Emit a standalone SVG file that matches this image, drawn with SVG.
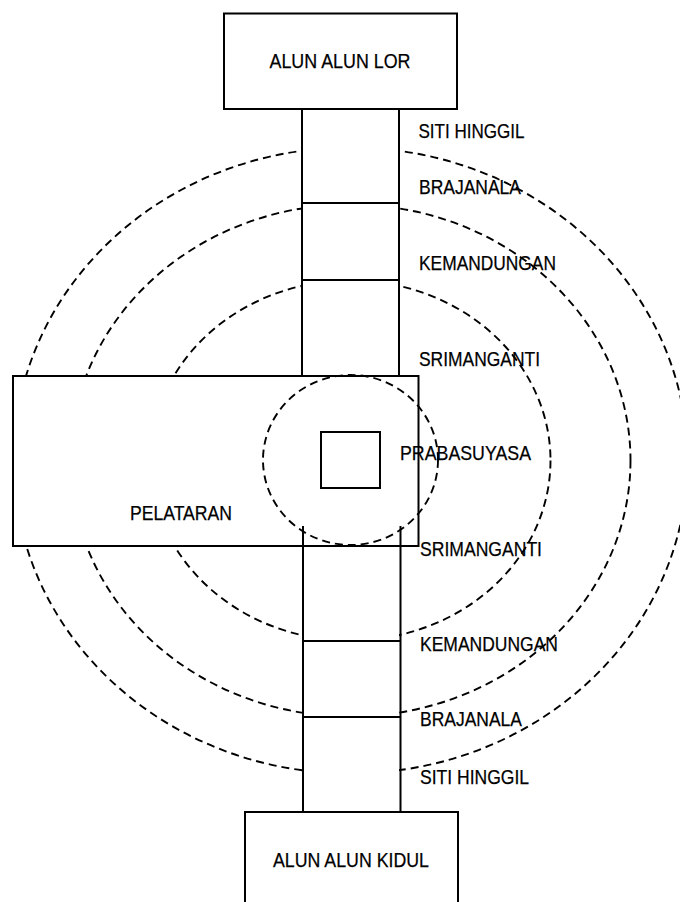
<svg xmlns="http://www.w3.org/2000/svg" width="680" height="902" viewBox="0 0 680 902">
  <style>
    .box { fill: #ffffff; stroke: #000000; stroke-width: 2; }
    .line { fill: none; stroke: #000000; stroke-width: 2; }
    .ring { fill: none; stroke: #000000; stroke-width: 1.9; stroke-dasharray: 8 5; }
    .lbl { font-family: "Liberation Sans", Arial, sans-serif; font-size: 21px; fill: #000000; stroke: #000000; stroke-width: 0.25; }
  </style>
  <rect x="0" y="0" width="680" height="902" fill="#ffffff"/>

  <g id="rings">
    <ellipse id="ring-siti-hinggil" class="ring" cx="350.5" cy="460.5" rx="337" ry="313"/>
    <ellipse id="ring-brajanala" class="ring" cx="350.5" cy="460.5" rx="280" ry="256"/>
    <ellipse id="ring-kemandungan" class="ring" cx="350.5" cy="460.5" rx="200" ry="180"/>
  </g>

  <rect x="302" y="109" width="97" height="703" fill="#ffffff"/>

  <g id="pelataran">
    <rect class="box" x="13" y="376" width="405.5" height="170"/>
    <text class="lbl" x="130" y="520" textLength="102" lengthAdjust="spacingAndGlyphs">PELATARAN</text>
  </g>

  <g id="connectors">
    <line class="line" x1="302" y1="109" x2="302" y2="376"/>
    <line class="line" x1="399" y1="109" x2="399" y2="376"/>
    <line class="line" x1="302" y1="203" x2="399" y2="203"/>
    <line class="line" x1="302" y1="280" x2="399" y2="280"/>
    <line class="line" x1="303" y1="526" x2="303" y2="812"/>
    <line class="line" x1="400.5" y1="526" x2="400.5" y2="812"/>
    <line class="line" x1="303" y1="641" x2="400.5" y2="641"/>
    <line class="line" x1="303" y1="717" x2="400.5" y2="717"/>
  </g>

  <g id="prabasuyasa">
    <ellipse class="ring" cx="350.5" cy="460" rx="87.5" ry="85"/>
    <rect class="box" x="321" y="432" width="59" height="56"/>
  </g>

  <g id="alun-alun-lor">
    <rect class="box" x="224" y="13.5" width="233" height="95.5"/>
    <text class="lbl" x="269.5" y="68" textLength="141" lengthAdjust="spacingAndGlyphs">ALUN ALUN LOR</text>
  </g>

  <g id="alun-alun-kidul">
    <rect class="box" x="245" y="812" width="213" height="100"/>
    <text class="lbl" x="273" y="867" textLength="156" lengthAdjust="spacingAndGlyphs">ALUN ALUN KIDUL</text>
  </g>

  <g id="labels">
    <g id="lbl-siti-hinggil-n"><text class="lbl" x="418.5" y="138" textLength="106" lengthAdjust="spacingAndGlyphs">SITI HINGGIL</text></g>
    <g id="lbl-brajanala-n"><text class="lbl" x="419" y="194" textLength="102" lengthAdjust="spacingAndGlyphs">BRAJANALA</text></g>
    <g id="lbl-kemandungan-n"><text class="lbl" x="419" y="270" textLength="137" lengthAdjust="spacingAndGlyphs">KEMANDUNGAN</text></g>
    <g id="lbl-srimanganti-n"><text class="lbl" x="419" y="366" textLength="121" lengthAdjust="spacingAndGlyphs">SRIMANGANTI</text></g>
    <g id="lbl-prabasuyasa"><text class="lbl" x="400" y="460" textLength="131" lengthAdjust="spacingAndGlyphs">PRABASUYASA</text></g>
    <g id="lbl-srimanganti-s"><text class="lbl" x="420" y="556" textLength="122" lengthAdjust="spacingAndGlyphs">SRIMANGANTI</text></g>
    <g id="lbl-kemandungan-s"><text class="lbl" x="420" y="651" textLength="138" lengthAdjust="spacingAndGlyphs">KEMANDUNGAN</text></g>
    <g id="lbl-brajanala-s"><text class="lbl" x="420" y="726" textLength="102" lengthAdjust="spacingAndGlyphs">BRAJANALA</text></g>
    <g id="lbl-siti-hinggil-s"><text class="lbl" x="420" y="784" textLength="109" lengthAdjust="spacingAndGlyphs">SITI HINGGIL</text></g>
  </g>
</svg>
